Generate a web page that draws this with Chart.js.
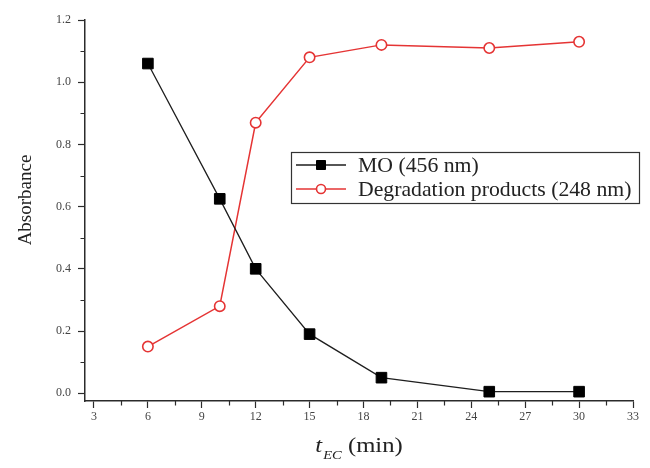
<!DOCTYPE html>
<html>
<head>
<meta charset="utf-8">
<script src="https://cdn.jsdelivr.net/npm/chart.js@4/dist/chart.umd.min.js"></script>
<style>
  html, body { margin: 0; padding: 0; background: #fff; }
  #wrap { width: 650px; height: 468px; }
</style>
</head>
<body>
<div id="wrap"><canvas id="c" width="650" height="468"></canvas></div>
<script>
// Electrocoagulation time (min) and absorbance readings
const timeMin = [6, 10, 12, 15, 19, 25, 30];
const moAbs   = [1.06, 0.625, 0.40, 0.19, 0.05, 0.005, 0.005];
const degAbs  = [0.15, 0.28, 0.87, 1.08, 1.12, 1.11, 1.13];

// Axis tick values
const xTicks = [3, 6, 9, 12, 15, 18, 21, 24, 27, 30, 33];
const yTicks = [0.0, 0.2, 0.4, 0.6, 0.8, 1.0, 1.2];

const seriesNames = ['MO (456 nm)', 'Degradation products (248 nm)'];

const SERIF = '"Liberation Serif", "Times New Roman", serif';
const AXIS_COLOR = '#2b2b2b';
const RED = 'rgb(229, 52, 52)';

const toPoints = (xs, ys) => xs.map((x, i) => ({ x: x, y: ys[i] }));

// Half-step minor ticks on both axes
const minorTicks = {
  id: 'minorTicks',
  afterDraw(chart) {
    const ctx = chart.ctx;
    const xs = chart.scales.x, ys = chart.scales.y;
    ctx.save();
    ctx.strokeStyle = AXIS_COLOR;
    ctx.lineWidth = 1.2;
    ctx.beginPath();
    for (let i = 0; i < xTicks.length - 1; i++) {
      const px = Math.round(xs.getPixelForValue((xTicks[i] + xTicks[i + 1]) / 2)) + 0.5;
      ctx.moveTo(px, xs.top);
      ctx.lineTo(px, xs.top + 4.5);
    }
    for (let i = 0; i < yTicks.length - 1; i++) {
      const py = Math.round(ys.getPixelForValue((yTicks[i] + yTicks[i + 1]) / 2)) + 0.5;
      ctx.moveTo(ys.right, py);
      ctx.lineTo(ys.right - 4.5, py);
    }
    ctx.stroke();
    ctx.restore();
  }
};

// Axis titles (x title uses an italic subscript)
const axisTitles = {
  id: 'axisTitles',
  afterDraw(chart) {
    const ctx = chart.ctx;
    const area = chart.chartArea;
    ctx.save();
    ctx.fillStyle = '#222';
    ctx.textBaseline = 'alphabetic';

    // y title
    ctx.save();
    ctx.translate(26, 200);
    ctx.rotate(-Math.PI / 2);
    ctx.font = '19px ' + SERIF;
    ctx.textAlign = 'center';
    ctx.textBaseline = 'middle';
    ctx.fillText('Absorbance', 0, 0);
    ctx.restore();

    // x title: t_EC (min)
    const fMain = 'italic 22px ' + SERIF;
    const fSub = 'italic 13px ' + SERIF;
    const fRest = '22px ' + SERIF;
    ctx.font = fMain; const wT = ctx.measureText('t').width;
    ctx.font = fSub; const wS = ctx.measureText('EC').width;
    ctx.font = fRest; const wR = ctx.measureText(' (min)').width;
    const total = (wT + 1 + wS + wR) * 1.12;
    ctx.translate((area.left + area.right) / 2 - total / 2, 452);
    ctx.scale(1.12, 1);
    let x = 0;
    ctx.textAlign = 'left';
    ctx.font = fMain; ctx.fillText('t', x, 0); x += wT + 1;
    ctx.font = fSub; ctx.fillText('EC', x, 7); x += wS;
    ctx.font = fRest; ctx.fillText(' (min)', x, 0);
    ctx.restore();
  }
};

// Boxed legend inside the plot
const boxLegend = {
  id: 'boxLegend',
  afterDraw(chart) {
    const ctx = chart.ctx;
    const box = { l: 291, t: 152, r: 639, b: 203 };
    ctx.save();
    ctx.fillStyle = '#fff';
    ctx.fillRect(box.l, box.t, box.r - box.l, box.b - box.t);
    ctx.strokeStyle = '#333';
    ctx.lineWidth = 1.2;
    ctx.strokeRect(box.l + 0.5, box.t + 0.5, box.r - box.l, box.b - box.t);
    const rows = [165, 189];
    chart.data.datasets.forEach((ds, i) => {
      const y = rows[i];
      ctx.strokeStyle = ds.borderColor;
      ctx.lineWidth = ds.borderWidth;
      ctx.beginPath();
      ctx.moveTo(296, y);
      ctx.lineTo(346, y);
      ctx.stroke();
      ctx.save();
      ctx.fillStyle = ds.pointBackgroundColor;
      ctx.strokeStyle = ds.pointBorderColor;
      ctx.lineWidth = ds.pointBorderWidth;
      ctx.beginPath();
      if (ds.pointStyle === 'rect') {
        ctx.rect(321 - 4.5, y - 4.5, 9, 9);
      } else {
        ctx.arc(321, y, 4.5, 0, Math.PI * 2);
      }
      ctx.fill();
      ctx.stroke();
      ctx.restore();
      ctx.save();
      ctx.fillStyle = '#222';
      ctx.font = '21px ' + SERIF;
      ctx.textAlign = 'left';
      ctx.textBaseline = 'middle';
      ctx.translate(358, y + 1);
      ctx.scale(1.035, 1);
      ctx.fillText(ds.label, 0, 0);
      ctx.restore();
    });
    ctx.restore();
  }
};

new Chart(document.getElementById('c'), {
  type: 'line',
  data: {
    datasets: [
      {
        label: seriesNames[0],
        data: toPoints(timeMin, moAbs),
        borderColor: '#1e1e1e',
        borderWidth: 1.3,
        pointStyle: 'rect',
        pointRadius: 7.5,
        pointBackgroundColor: '#000',
        pointBorderColor: '#000',
        pointBorderWidth: 1,
        tension: 0
      },
      {
        label: seriesNames[1],
        data: toPoints(timeMin, degAbs),
        borderColor: RED,
        borderWidth: 1.5,
        pointStyle: 'circle',
        pointRadius: 5.2,
        pointBackgroundColor: '#fff',
        pointBorderColor: RED,
        pointBorderWidth: 1.6,
        tension: 0
      }
    ]
  },
  options: {
    responsive: false,
    animation: false,
    devicePixelRatio: 1,
    layout: { padding: { left: 0, right: 17, top: 20, bottom: 0 } },
    plugins: {
      legend: { display: false },
      tooltip: { enabled: false }
    },
    scales: {
      x: {
        type: 'linear',
        min: 2.5,
        max: 33,
        afterBuildTicks(scale) { scale.ticks = xTicks.map(v => ({ value: v })); },
        afterFit(scale) { scale.height = 67; },
        border: { display: true, color: AXIS_COLOR, width: 1.5 },
        grid: { display: true, drawOnChartArea: false, drawTicks: true, tickLength: 7, tickColor: AXIS_COLOR, tickWidth: 1.2 },
        ticks: {
          padding: 2,
          color: '#444',
          font: { family: SERIF, size: 12 },
          maxRotation: 0,
          autoSkip: false,
          callback: v => String(v)
        }
      },
      y: {
        type: 'linear',
        min: -0.025,
        max: 1.2,
        afterBuildTicks(scale) { scale.ticks = yTicks.map(v => ({ value: v })); },
        afterFit(scale) { scale.width = 85; },
        border: { display: true, color: AXIS_COLOR, width: 1.5 },
        grid: { display: true, drawOnChartArea: false, drawTicks: true, tickLength: 7, tickColor: AXIS_COLOR, tickWidth: 1.2 },
        ticks: {
          padding: 7,
          color: '#444',
          font: { family: SERIF, size: 12 },
          autoSkip: false,
          callback: v => Number(v).toFixed(1)
        }
      }
    }
  },
  plugins: [minorTicks, axisTitles, boxLegend]
});
</script>
</body>
</html>
